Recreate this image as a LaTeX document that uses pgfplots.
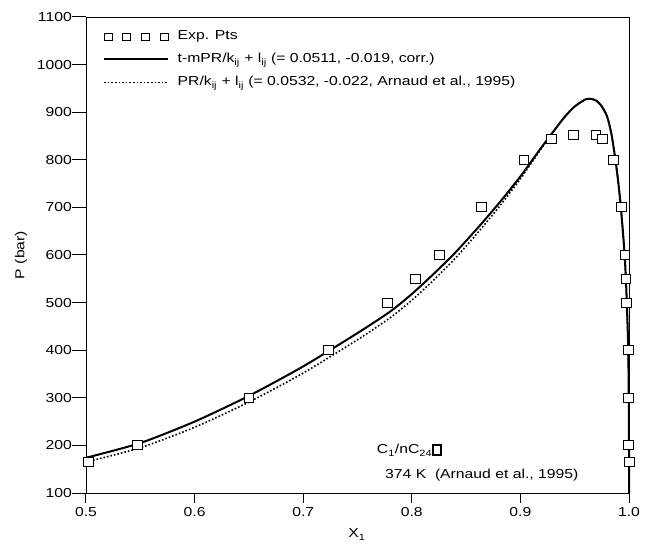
\documentclass[border=0pt]{standalone}
\usepackage{fontspec}
\setmainfont{Liberation Sans}[FakeStretch=1.21]
\usepackage{pgfplots}
\usepackage{pgfplotstable}
\pgfplotsset{compat=1.18}

\pgfplotstableread{
x P
0.502 165
0.5476 200
0.650 300
0.7235 400
0.7778 500
0.8033 550
0.8257 600
0.8644 700
0.9033 800
0.9288 843
0.9487 853
0.9696 853
0.9754 843
0.9856 800
0.9930 700
0.9963 600
0.9972 550
0.9979 500
0.9997 400
0.9999 300
0.9999 200
1.0000 165
}\exptab

\pgfplotstableread{
x P
0.500 174
0.550 205
0.600 250
0.650 304
0.700 366
0.750 436
0.780 481
0.800 518
0.820 560
0.840 605
0.860 655
0.880 708
0.900 765
0.920 828
0.940 888
0.950 912
0.960 927
0.965 928
0.970 924
0.975 912
0.980 890
0.984 852
0.9875 800
0.990 755
0.9925 700
0.996 600
0.998 500
0.9993 400
0.9998 300
1.0000 200
1.0000 100
}\tmpr

\pgfplotstableread{
x P
0.500 165
0.550 195
0.600 238
0.650 291
0.700 352
0.750 422
0.780 468
0.800 505
0.820 547
0.840 593
0.860 645
0.880 700
0.900 760
0.920 826
0.940 888
0.950 912
0.960 927
0.965 928
0.970 924
0.975 912
0.980 890
0.984 852
0.9875 800
0.990 755
0.9925 700
0.996 600
0.998 500
0.9993 400
0.9998 300
1.0000 200
1.0000 100
}\prtab

\pgfplotsset{
  linelegend/.style={legend image code/.code={\draw[##1] (0pt,0pt) -- (64pt,0pt);}},
  sqlegend/.style={legend image code/.code={
    \foreach \xx in {4,22.5,41,60} {
      \draw[black, fill=white, line width=0.8pt] (\xx pt-4pt,-3.5pt) rectangle ++(8pt,7pt);
    }}},
}

\begin{document}
\fontsize{13}{15}\selectfont
\begin{tikzpicture}
\begin{axis}[
  width=543pt, height=476pt, scale only axis,
  xmin=0.5, xmax=1.0, ymin=100, ymax=1100,
  axis line style={line width=0.8pt},
  xtick pos=bottom, ytick pos=left,
  xtick={0.5,0.6,0.7,0.8,0.9,1.0},
  ytick={100,200,300,400,500,600,700,800,900,1000,1100},
  tick align=outside, major tick length=10pt,
  ytick style={/pgfplots/major tick length=14pt},
  tick style={line width=1pt, black},
  minor tick num=0,
  /pgf/number format/assume math mode=true,
  xticklabel style={/pgf/number format/.cd, fixed, fixed zerofill, precision=1},
  yticklabel style={/pgf/number format/1000 sep={}},
  ticklabel style={font=\fontsize{13}{15}\selectfont, inner sep=4pt},
  xlabel={X\textsubscript{1}},
  ylabel={P (bar)},
  xlabel style={at={(axis description cs:0.499,-0.0945)}, anchor=base},
  ylabel style={at={(axis description cs:-0.1197,0.5)}, anchor=center},
  label style={font=\fontsize{13}{15}\selectfont},
  clip=false,
  legend style={draw=none, fill=none, at={(0,1)}, anchor=north west,
    xshift=14pt, yshift=-11pt, row sep=10.5pt, column sep=8.5pt,
    font=\fontsize{13}{15}\selectfont,
    nodes={inner sep=0pt, text height=9.5pt, text depth=3pt}},
  legend cell align=left,
]
\addplot[only marks, mark=square*, mark size=4.5pt,
  mark options={fill=white, draw=black, line width=0.9pt, xscale=1.1}, sqlegend]
  table[x=x,y=P] {\exptab};
\addlegendentry{Exp. Pts}
\addplot[black, line width=2pt, smooth, tension=0.4, linelegend] table[x=x,y=P] {\tmpr};
\addlegendentry{t-mPR/k\textsubscript{ij} + l\textsubscript{ij} (= 0.0511, -0.019, corr.)}
\addplot[black, line width=1.6pt, dotted, smooth, tension=0.4, linelegend] table[x=x,y=P] {\prtab};
\addlegendentry{PR/k\textsubscript{ij} + l\textsubscript{ij} (= 0.0532, -0.022, Arnaud et al., 1995)}
\node[anchor=base west, inner sep=0pt] at (axis cs:0.7677,182)
  {C\textsubscript{1}/nC\textsubscript{24}{\fboxsep=0pt\fboxrule=1.7pt\fbox{\rule{0pt}{8pt}\hspace{6.5pt}}}};
\node[anchor=base west, inner sep=0pt] at (axis cs:0.7753,131)
  {374 K\ \ (Arnaud et al., 1995)};
\coordinate (O) at (rel axis cs:0,0);
\end{axis}
\pgfresetboundingbox
\path ([xshift=-86pt,yshift=-58pt]O) rectangle ([xshift=567pt,yshift=493pt]O);
\end{tikzpicture}
\end{document}
